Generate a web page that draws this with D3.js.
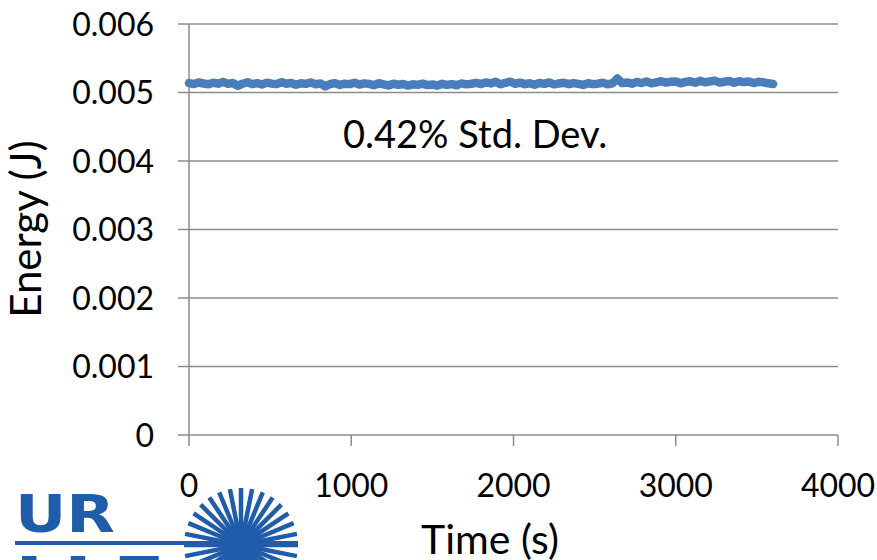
<!DOCTYPE html>
<html>
<head>
<meta charset="utf-8">
<script src="https://cdn.jsdelivr.net/npm/d3@7"></script>
<style>
  body { margin: 0; background: #fff; }
  svg { display: block; font-family: Lato, "Open Sans", sans-serif; }
</style>
</head>
<body>
<div id="chart"></div>
<script>
// time in seconds, energy in joules
const times = d3.range(0, 3601, 30);
const energy = [
  0.005137, 0.005124, 0.005146, 0.005131, 0.005120, 0.005142, 0.005129, 0.005155, 0.005126, 0.005138,
  0.005098, 0.005128, 0.005149, 0.005122, 0.005137, 0.005117, 0.005144, 0.005129, 0.005124, 0.005151,
  0.005128, 0.005140, 0.005113, 0.005135, 0.005126, 0.005146, 0.005120, 0.005133, 0.005090, 0.005124,
  0.005137, 0.005110, 0.005129, 0.005122, 0.005142, 0.005117, 0.005133, 0.005126, 0.005106, 0.005135,
  0.005119, 0.005104, 0.005128, 0.005113, 0.005124, 0.005101, 0.005120, 0.005111, 0.005129, 0.005108,
  0.005117, 0.005102, 0.005126, 0.005111, 0.005122, 0.005106, 0.005133, 0.005119, 0.005128, 0.005140,
  0.005124, 0.005147, 0.005133, 0.005155, 0.005120, 0.005142, 0.005158, 0.005128, 0.005144, 0.005122,
  0.005135, 0.005113, 0.005138, 0.005126, 0.005147, 0.005119, 0.005131, 0.005142, 0.005122, 0.005137,
  0.005126, 0.005111, 0.005135, 0.005122, 0.005129, 0.005142, 0.005120, 0.005133, 0.005205, 0.005137,
  0.005147, 0.005128, 0.005155, 0.005138, 0.005160, 0.005133, 0.005149, 0.005164, 0.005144, 0.005156,
  0.005159, 0.005134, 0.005154, 0.005165, 0.005143, 0.005170, 0.005150, 0.005161, 0.005174, 0.005145,
  0.005157, 0.005168, 0.005141, 0.005165, 0.005152, 0.005161, 0.005138, 0.005156, 0.005148, 0.005134,
  0.005124
];
const xTicks = [0, 1000, 2000, 3000, 4000];
const yTicks = [0, 0.001, 0.002, 0.003, 0.004, 0.005, 0.006];
const annotation = "0.42% Std. Dev.";

const w = 877, h = 560;
const margin = { top: 24, right: 39, bottom: 125, left: 189 };

const svg = d3.select("#chart").append("svg")
  .attr("width", w)
  .attr("height", h);

const x = d3.scaleLinear().domain([0, 4000]).range([margin.left, w - margin.right]);
const y = d3.scaleLinear().domain([0, 0.006]).range([h - margin.bottom, margin.top]);

const gridColor = "#8c8c8c";

// horizontal gridlines + y ticks
svg.append("g")
  .selectAll("line")
  .data(yTicks)
  .join("line")
  .attr("x1", x(0) - 11)
  .attr("x2", x(4000))
  .attr("y1", d => y(d))
  .attr("y2", d => y(d))
  .attr("stroke", gridColor)
  .attr("stroke-width", 1.5);

// y axis line
svg.append("line")
  .attr("x1", x(0)).attr("x2", x(0))
  .attr("y1", y(0.006)).attr("y2", y(0))
  .attr("stroke", gridColor)
  .attr("stroke-width", 1.5);

// x tick marks
svg.append("g")
  .selectAll("line")
  .data(xTicks)
  .join("line")
  .attr("x1", d => x(d)).attr("x2", d => x(d))
  .attr("y1", y(0)).attr("y2", y(0) + 11)
  .attr("stroke", gridColor)
  .attr("stroke-width", 1.5);

// tick labels
svg.append("g")
  .selectAll("text")
  .data(yTicks)
  .join("text")
  .attr("x", x(0) - 35)
  .attr("y", d => y(d))
  .attr("dy", "0.36em")
  .attr("text-anchor", "end")
  .style("font-size", "32px")
  .text(d => d === 0 ? "0" : d.toFixed(3));

svg.append("g")
  .selectAll("text")
  .data(xTicks)
  .join("text")
  .attr("x", d => x(d))
  .attr("y", 497)
  .attr("text-anchor", "middle")
  .style("font-size", "32px")
  .text(d => d);

// axis titles
svg.append("text")
  .attr("transform", "translate(41, 229) rotate(-90)")
  .attr("text-anchor", "middle")
  .style("font-size", "42px")
  .text("Energy (J)");

svg.append("text")
  .attr("x", 490)
  .attr("y", 554)
  .attr("text-anchor", "middle")
  .style("font-size", "41px")
  .text("Time (s)");

// series
const line = d3.line()
  .x((d, i) => x(times[i]))
  .y(d => y(d));

svg.append("path")
  .datum(energy)
  .attr("d", line)
  .attr("fill", "none")
  .attr("stroke", "#4a7ebb")
  .attr("stroke-width", 8.5)
  .attr("stroke-linejoin", "round")
  .attr("stroke-linecap", "round");

svg.append("text")
  .attr("x", 343)
  .attr("y", 148)
  .style("font-size", "38px")
  .text(annotation);

// UR LLE logo, bottom left
const logoBlue = "#1f5ca9";
const logo = svg.append("g");

logo.append("text")
  .attr("x", 15)
  .attr("y", 532)
  .attr("textLength", 100)
  .attr("lengthAdjust", "spacingAndGlyphs")
  .style("font-family", "DejaVu Sans")
  .style("font-weight", "bold")
  .style("font-size", "52px")
  .attr("fill", logoBlue)
  .text("UR");

logo.append("rect")
  .attr("x", 15).attr("y", 541)
  .attr("width", 283).attr("height", 4)
  .attr("fill", logoBlue);

logo.append("text")
  .attr("x", 15)
  .attr("y", 594)
  .attr("textLength", 150)
  .attr("lengthAdjust", "spacingAndGlyphs")
  .style("font-family", "DejaVu Sans")
  .style("font-weight", "bold")
  .style("font-size", "52px")
  .attr("fill", logoBlue)
  .text("LLE");

const cx = 241, cy = 545;
logo.append("g")
  .selectAll("line")
  .data(d3.range(0, 360, 11.25))
  .join("line")
  .attr("x1", cx).attr("y1", cy)
  .attr("x2", a => cx + 57 * Math.cos(a * Math.PI / 180))
  .attr("y2", a => cy - 57 * Math.sin(a * Math.PI / 180))
  .attr("stroke", logoBlue)
  .attr("stroke-width", 4.5);

logo.append("circle")
  .attr("cx", cx).attr("cy", cy)
  .attr("r", 19)
  .attr("fill", logoBlue);
</script>
</body>
</html>
